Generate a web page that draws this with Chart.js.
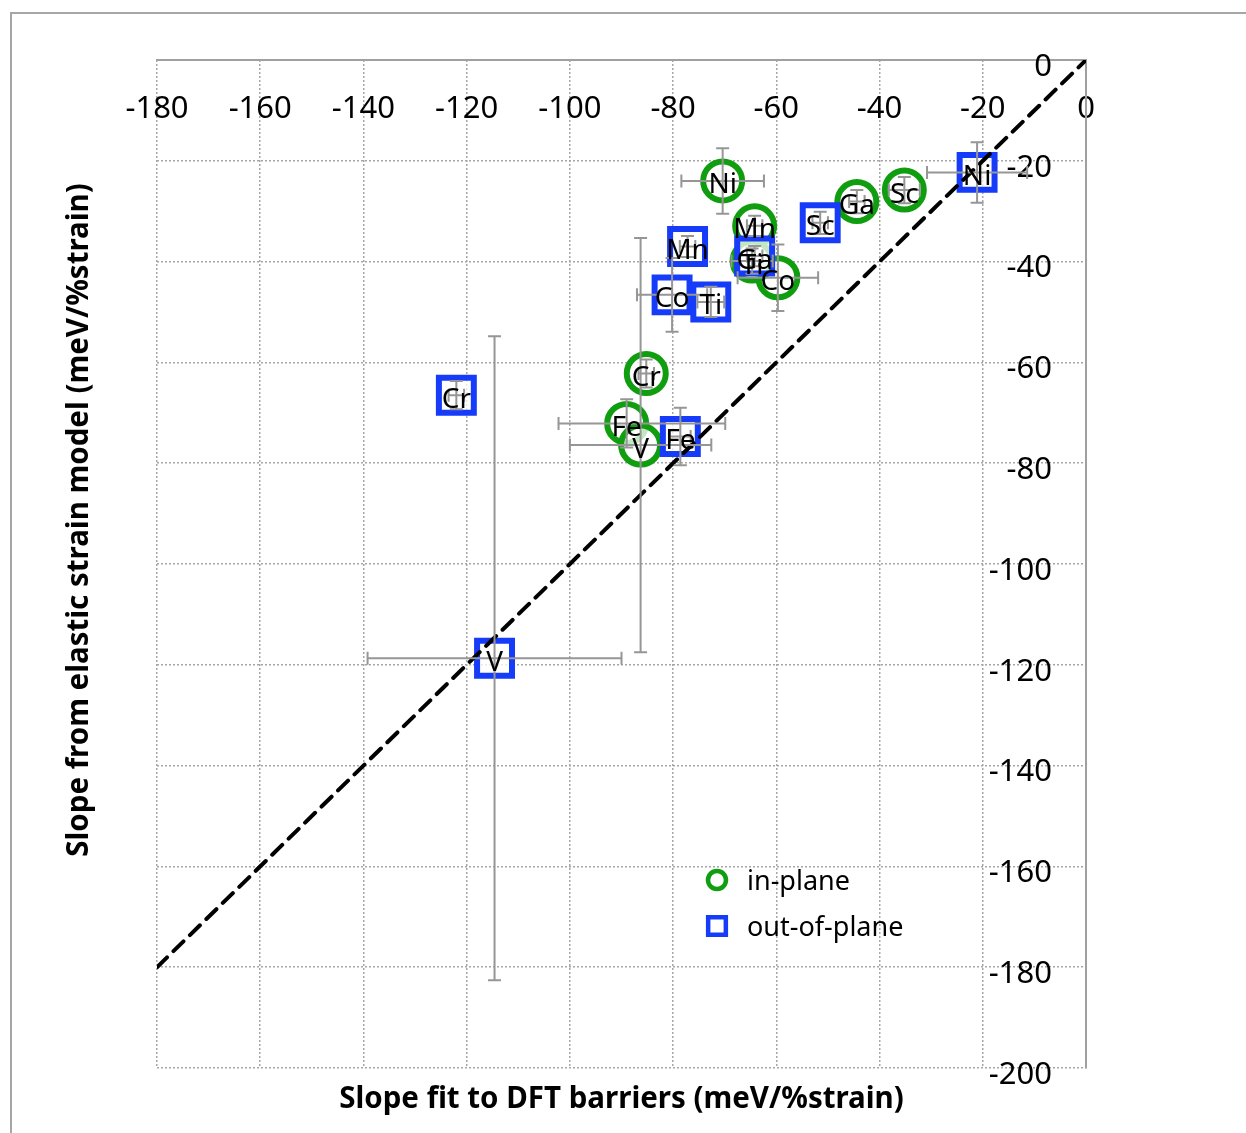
<!DOCTYPE html>
<html>
<head>
<meta charset="utf-8">
<script src="https://cdn.jsdelivr.net/npm/chart.js@4.4.0/dist/chart.umd.min.js"></script>
<style>
  html, body { margin: 0; padding: 0; background: #fff; overflow: hidden; }
  #marco { position: absolute; left: 10px; top: 12px; width: 1300px; height: 1200px; border-left: 2px solid #a6a6a6; border-top: 2px solid #a6a6a6; }
  #caja { position: absolute; left: 0; top: 0; width: 1246px; height: 1133px; }
</style>
</head>
<body>
<div id="marco"></div>
<div id="caja"><canvas id="grafico" width="1246" height="1133"></canvas></div>
<script>
// in-plane (green circles)
const inPlaneNames = ['Ni', 'Mn', 'Ga', 'Sc', 'Co', 'Ti', 'Cr', 'Fe', 'V'];
const inPlaneX = [-70.4, -64.2, -44.4, -35.2, -59.7, -64.7, -85.2, -89.0, -86.3];
const inPlaneY = [-24.0, -32.9, -28.1, -25.8, -43.2, -39.9, -62.2, -72.1, -76.4];
const inPlaneXErrMinus = [8.0, 1.5, 1.5, 3.0, 7.8, 4.0, 1.5, 13.2, 13.7];
const inPlaneXErrPlus = [8.0, 1.5, 1.5, 3.0, 7.8, 4.0, 1.5, 19.1, 13.7];
const inPlaneYErr = [6.5, 2.0, 2.3, 2.6, 6.6, 2.5, 2.8, 4.8, 41.1];

// out-of-plane (blue squares)
const outPlaneNames = ['Ni', 'Sc', 'Mn', 'Ga', 'Co', 'Ti', 'Cr', 'Fe', 'V'];
const outPlaneX = [-21.1, -51.5, -77.2, -64.2, -80.2, -72.7, -122.0, -78.6, -114.6];
const outPlaneY = [-22.3, -32.3, -37.0, -38.9, -46.6, -48.0, -66.5, -74.7, -118.7];
const outPlaneXErr = [9.7, 1.5, 1.5, 1.5, 6.8, 2.6, 1.5, 2.0, 24.6];
const outPlaneYErr = [6.0, 2.2, 2.1, 2.0, 7.3, 3.0, 2.8, 5.7, 63.9];

// y = x guide line
const diagX = [-180, 0];
const diagY = [-180, 0];

const xTitle = 'Slope fit to DFT barriers (meV/%strain)';
const yTitle = 'Slope from elastic strain model (meV/%strain)';
const legendLabels = ['in-plane', 'out-of-plane'];

const verde = 'rgb(16,158,16)';
const azul = 'rgb(22,60,250)';
const gris = 'rgb(150,150,150)';
const fuente = '"Noto Sans", "Open Sans", sans-serif';

const inPlaneData = inPlaneX.map((x, i) => ({
  x, y: inPlaneY[i], xMinus: inPlaneXErrMinus[i], xPlus: inPlaneXErrPlus[i], yErr: inPlaneYErr[i], name: inPlaneNames[i]
}));
const outPlaneData = outPlaneX.map((x, i) => ({
  x, y: outPlaneY[i], xMinus: outPlaneXErr[i], xPlus: outPlaneXErr[i], yErr: outPlaneYErr[i], name: outPlaneNames[i]
}));

const barrasError = {
  id: 'barrasError',
  afterDatasetsDraw(chart) {
    const { ctx, scales: { x, y } } = chart;
    const cap = 6.5;
    ctx.save();
    ctx.strokeStyle = gris;
    ctx.lineWidth = 2;
    chart.data.datasets.forEach(ds => {
      if (!ds.conError) return;
      ds.data.forEach(p => {
        const px = x.getPixelForValue(p.x), py = y.getPixelForValue(p.y);
        const x0 = x.getPixelForValue(p.x - p.xMinus), x1 = x.getPixelForValue(p.x + p.xPlus);
        const y0 = y.getPixelForValue(p.y - p.yErr), y1 = y.getPixelForValue(p.y + p.yErr);
        ctx.beginPath();
        ctx.moveTo(x0, py); ctx.lineTo(x1, py);
        ctx.moveTo(x0, py - cap); ctx.lineTo(x0, py + cap);
        ctx.moveTo(x1, py - cap); ctx.lineTo(x1, py + cap);
        ctx.moveTo(px, y0); ctx.lineTo(px, y1);
        ctx.moveTo(px - cap, y0); ctx.lineTo(px + cap, y0);
        ctx.moveTo(px - cap, y1); ctx.lineTo(px + cap, y1);
        ctx.stroke();
      });
    });
    ctx.restore();
  }
};

const etiquetas = {
  id: 'etiquetas',
  afterDraw(chart) {
    const { ctx, chartArea } = chart;
    ctx.save();
    // point names
    ctx.fillStyle = '#000';
    ctx.font = '28px ' + fuente;
    ctx.textAlign = 'center';
    ctx.textBaseline = 'alphabetic';
    chart.data.datasets.forEach((ds, i) => {
      if (!ds.conError) return;
      chart.getDatasetMeta(i).data.forEach((el, j) => {
        ctx.fillText(ds.data[j].name, el.x, el.y + 12.5);
      });
    });

    // legend
    const lx = chartArea.left + 560, ly = chartArea.top + 820;
    ctx.font = '27px ' + fuente;
    ctx.fillStyle = '#fff';
    ctx.lineWidth = 4.5;
    ctx.strokeStyle = verde;
    Chart.helpers.drawPoint(ctx, { pointStyle: 'circle', radius: 9, borderWidth: 4.5 }, lx, ly);
    ctx.strokeStyle = azul;
    Chart.helpers.drawPoint(ctx, { pointStyle: 'rect', radius: 12.5, borderWidth: 4.5 }, lx, ly + 46);
    ctx.fillStyle = '#000';
    ctx.textAlign = 'left';
    ctx.textBaseline = 'middle';
    ctx.fillText(legendLabels[0], lx + 30, ly + 2);
    ctx.fillText(legendLabels[1], lx + 30, ly + 48);

    // axis titles
    ctx.font = 'bold 29.5px ' + fuente;
    ctx.textAlign = 'center';
    ctx.fillText(xTitle, (chartArea.left + chartArea.right) / 2, chartArea.bottom + 32);
    ctx.translate(80, chartArea.top + 460);
    ctx.rotate(-Math.PI / 2);
    ctx.fillText(yTitle, 0, 0);
    ctx.restore();
  }
};

const gridOpts = { color: '#a6a6a6', lineWidth: 1.5, drawTicks: false };
const borderOpts = { display: true, color: '#a0a0a0', width: 2, dash: [2, 2] };
const tickFont = { size: 31, family: fuente };

new Chart(document.getElementById('grafico'), {
  type: 'scatter',
  data: {
    datasets: [
      {
        label: 'y = x',
        data: diagX.map((x, i) => ({ x, y: diagY[i] })),
        showLine: true,
        borderColor: '#000',
        borderWidth: 4,
        borderDash: [14, 9],
        borderCapStyle: 'round',
        pointRadius: 0,
        order: 0
      },
      {
        label: legendLabels[0],
        data: inPlaneData,
        conError: true,
        pointStyle: 'circle',
        pointRadius: 19.5,
        pointBorderWidth: 6,
        pointBorderColor: verde,
        pointBackgroundColor: 'rgba(255,255,255,0.75)',
        order: 2
      },
      {
        label: legendLabels[1],
        data: outPlaneData,
        conError: true,
        pointStyle: 'rect',
        pointRadius: 24.7,
        pointBorderWidth: 6,
        pointBorderColor: azul,
        pointBackgroundColor: 'rgba(255,255,255,0.75)',
        order: 1
      }
    ]
  },
  options: {
    responsive: false,
    animation: false,
    events: [],
    layout: { padding: { left: 157, top: 60, right: 160, bottom: 65 } },
    plugins: { legend: { display: false }, tooltip: { enabled: false } },
    scales: {
      x: {
        type: 'linear', min: -180, max: 0, position: { y: 0 },
        ticks: { stepSize: 20, color: '#000', font: tickFont, padding: 31, maxRotation: 0, autoSkip: false },
        grid: gridOpts,
        border: borderOpts
      },
      y: {
        type: 'linear', min: -200, max: 0, position: { x: 0 },
        ticks: { stepSize: 20, display: false },
        grid: gridOpts,
        border: borderOpts
      },
      // tick labels of the vertical axis, set a little to the left of the axis line
      yLabels: {
        axis: 'y', type: 'linear', min: -200, max: 0, position: { x: -6.6 },
        ticks: { stepSize: 20, color: '#000', font: tickFont, labelOffset: 7, autoSkip: false },
        grid: { display: false, drawTicks: false },
        border: { display: false }
      }
    }
  },
  plugins: [barrasError, etiquetas]
});
</script>
</body>
</html>
